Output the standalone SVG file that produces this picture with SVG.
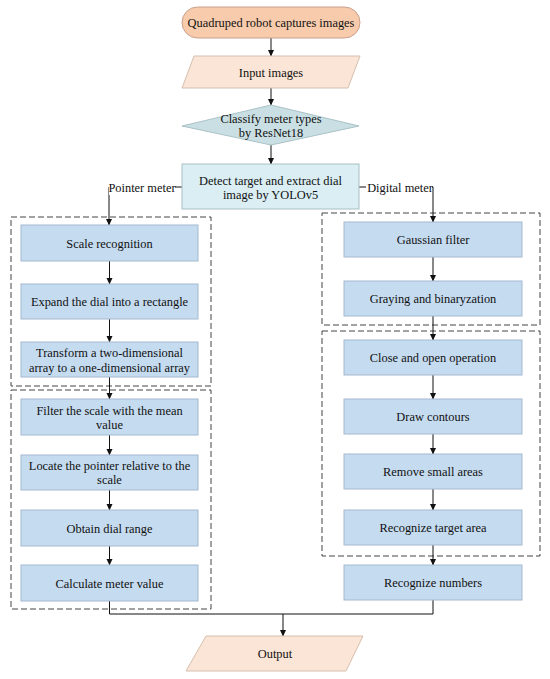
<svg xmlns="http://www.w3.org/2000/svg" width="550" height="679" viewBox="0 0 550 679">
<style>
text{font-family:"Liberation Serif","Times New Roman",serif;font-size:12.4px;fill:#111;text-anchor:middle}
.blue{fill:#c5dbf0;stroke:#a3b9cf;stroke-width:1}
.dash{fill:none;stroke:#444;stroke-width:1;stroke-dasharray:6,3}
.conn{fill:none;stroke:#111;stroke-width:1}
</style>
<defs>
<marker id="ah" markerWidth="7" markerHeight="7" refX="6" refY="3.5" orient="auto" markerUnits="userSpaceOnUse">
<path d="M0,0.5 L6.5,3.5 L0,6.5 Z" fill="#111"/>
</marker>
</defs>
<rect width="550" height="679" fill="#fff"/>

<g id="groups">
<rect class="dash" x="11" y="217" width="200" height="169"/>
<rect class="dash" x="11" y="390" width="200" height="219"/>
<rect class="dash" x="322" y="213" width="218" height="112"/>
<rect class="dash" x="322" y="331" width="218" height="225"/>
</g>

<g id="connectors">
<line class="conn" x1="271" y1="38" x2="271" y2="56" marker-end="url(#ah)"/>
<line class="conn" x1="271" y1="88" x2="271" y2="105" marker-end="url(#ah)"/>
<line class="conn" x1="271" y1="145" x2="271" y2="164" marker-end="url(#ah)"/>
<path class="conn" d="M182,187 H109 V225" marker-end="url(#ah)"/>
<path class="conn" d="M359,187 H433 V222" marker-end="url(#ah)"/>
<line class="conn" x1="109.5" y1="261" x2="109.5" y2="284" marker-end="url(#ah)"/>
<line class="conn" x1="109.5" y1="319" x2="109.5" y2="342" marker-end="url(#ah)"/>
<line class="conn" x1="109.5" y1="377" x2="109.5" y2="399" marker-end="url(#ah)"/>
<line class="conn" x1="109.5" y1="435" x2="109.5" y2="455" marker-end="url(#ah)"/>
<line class="conn" x1="109.5" y1="490" x2="109.5" y2="510" marker-end="url(#ah)"/>
<line class="conn" x1="109.5" y1="546" x2="109.5" y2="565" marker-end="url(#ah)"/>
<line class="conn" x1="433" y1="257" x2="433" y2="281" marker-end="url(#ah)"/>
<line class="conn" x1="433" y1="316" x2="433" y2="340" marker-end="url(#ah)"/>
<line class="conn" x1="433" y1="375" x2="433" y2="399" marker-end="url(#ah)"/>
<line class="conn" x1="433" y1="434" x2="433" y2="454" marker-end="url(#ah)"/>
<line class="conn" x1="433" y1="489" x2="433" y2="510" marker-end="url(#ah)"/>
<line class="conn" x1="433" y1="545" x2="433" y2="565" marker-end="url(#ah)"/>
<path class="conn" d="M109.5,601 V614 H433 V600"/>
<line class="conn" x1="283" y1="614" x2="283" y2="636" marker-end="url(#ah)"/>
<rect x="109" y="180" width="66" height="15" fill="#fff"/>
<text x="142" y="191.5">Pointer meter</text>
<rect x="366" y="180" width="66" height="15" fill="#fff"/>
<text x="400" y="191.5">Digital meter</text>
</g>

<g id="start">
<rect x="182" y="7" width="178" height="31" rx="15.5" fill="#f8cbad" stroke="#c8a08c"/>
<text x="271" y="27">Quadruped robot captures images</text>
</g>
<g id="input">
<polygon points="194,56 360,56 348,88 182,88" fill="#fbe5d6" stroke="#d6bfae"/>
<text x="271" y="76.5">Input images</text>
</g>
<g id="classify">
<polygon points="271,105 359,126 271,145 182,126" fill="#c9dfe3" stroke="#a9c2c7"/>
<text x="271" y="122.5">Classify meter types</text>
<text x="271" y="136.5">by ResNet18</text>
</g>
<g id="detect">
<rect x="182" y="164" width="177" height="45" fill="#daeef3" stroke="#a9c0c5"/>
<text x="270.5" y="184.5">Detect target and extract dial</text>
<text x="270.5" y="198.5">image by YOLOv5</text>
</g>

<g id="scale"><rect class="blue" x="21" y="225" width="177" height="36"/><text x="109.5" y="247.5">Scale recognition</text></g>
<g id="expand"><rect class="blue" x="21" y="284" width="177" height="35"/><text x="109.5" y="306">Expand the dial into a rectangle</text></g>
<g id="transform"><rect class="blue" x="21" y="342" width="177" height="35"/><text x="109.5" y="356.5">Transform a two-dimensional</text><text x="109.5" y="371.5">array to a one-dimensional array</text></g>
<g id="filter"><rect class="blue" x="21" y="399" width="177" height="36"/><text x="109.5" y="414.5">Filter the scale with the mean</text><text x="109.5" y="428.5">value</text></g>
<g id="locate"><rect class="blue" x="21" y="455" width="177" height="35"/><text x="109.5" y="469.5">Locate the pointer relative to the</text><text x="109.5" y="483.5">scale</text></g>
<g id="range"><rect class="blue" x="21" y="510" width="177" height="36"/><text x="109.5" y="532.5">Obtain dial range</text></g>
<g id="calc"><rect class="blue" x="21" y="565" width="177" height="36"/><text x="109.5" y="587.5">Calculate meter value</text></g>

<g id="gauss"><rect class="blue" x="344" y="222" width="178" height="35"/><text x="433" y="244">Gaussian filter</text></g>
<g id="gray"><rect class="blue" x="344" y="281" width="178" height="35"/><text x="433" y="303">Graying and binaryzation</text></g>
<g id="close"><rect class="blue" x="344" y="340" width="178" height="35"/><text x="433" y="362">Close and open operation</text></g>
<g id="contours"><rect class="blue" x="344" y="399" width="178" height="35"/><text x="433" y="421">Draw contours</text></g>
<g id="remove"><rect class="blue" x="344" y="454" width="178" height="35"/><text x="433" y="476">Remove small areas</text></g>
<g id="target"><rect class="blue" x="344" y="510" width="178" height="35"/><text x="433" y="532">Recognize target area</text></g>
<g id="numbers"><rect class="blue" x="344" y="565" width="178" height="35"/><text x="433" y="587">Recognize numbers</text></g>

<g id="output">
<polygon points="206,636 363,636 346,671 186,671" fill="#fbe5d6" stroke="#d6bfae"/>
<text x="275" y="657.5">Output</text>
</g>
</svg>
